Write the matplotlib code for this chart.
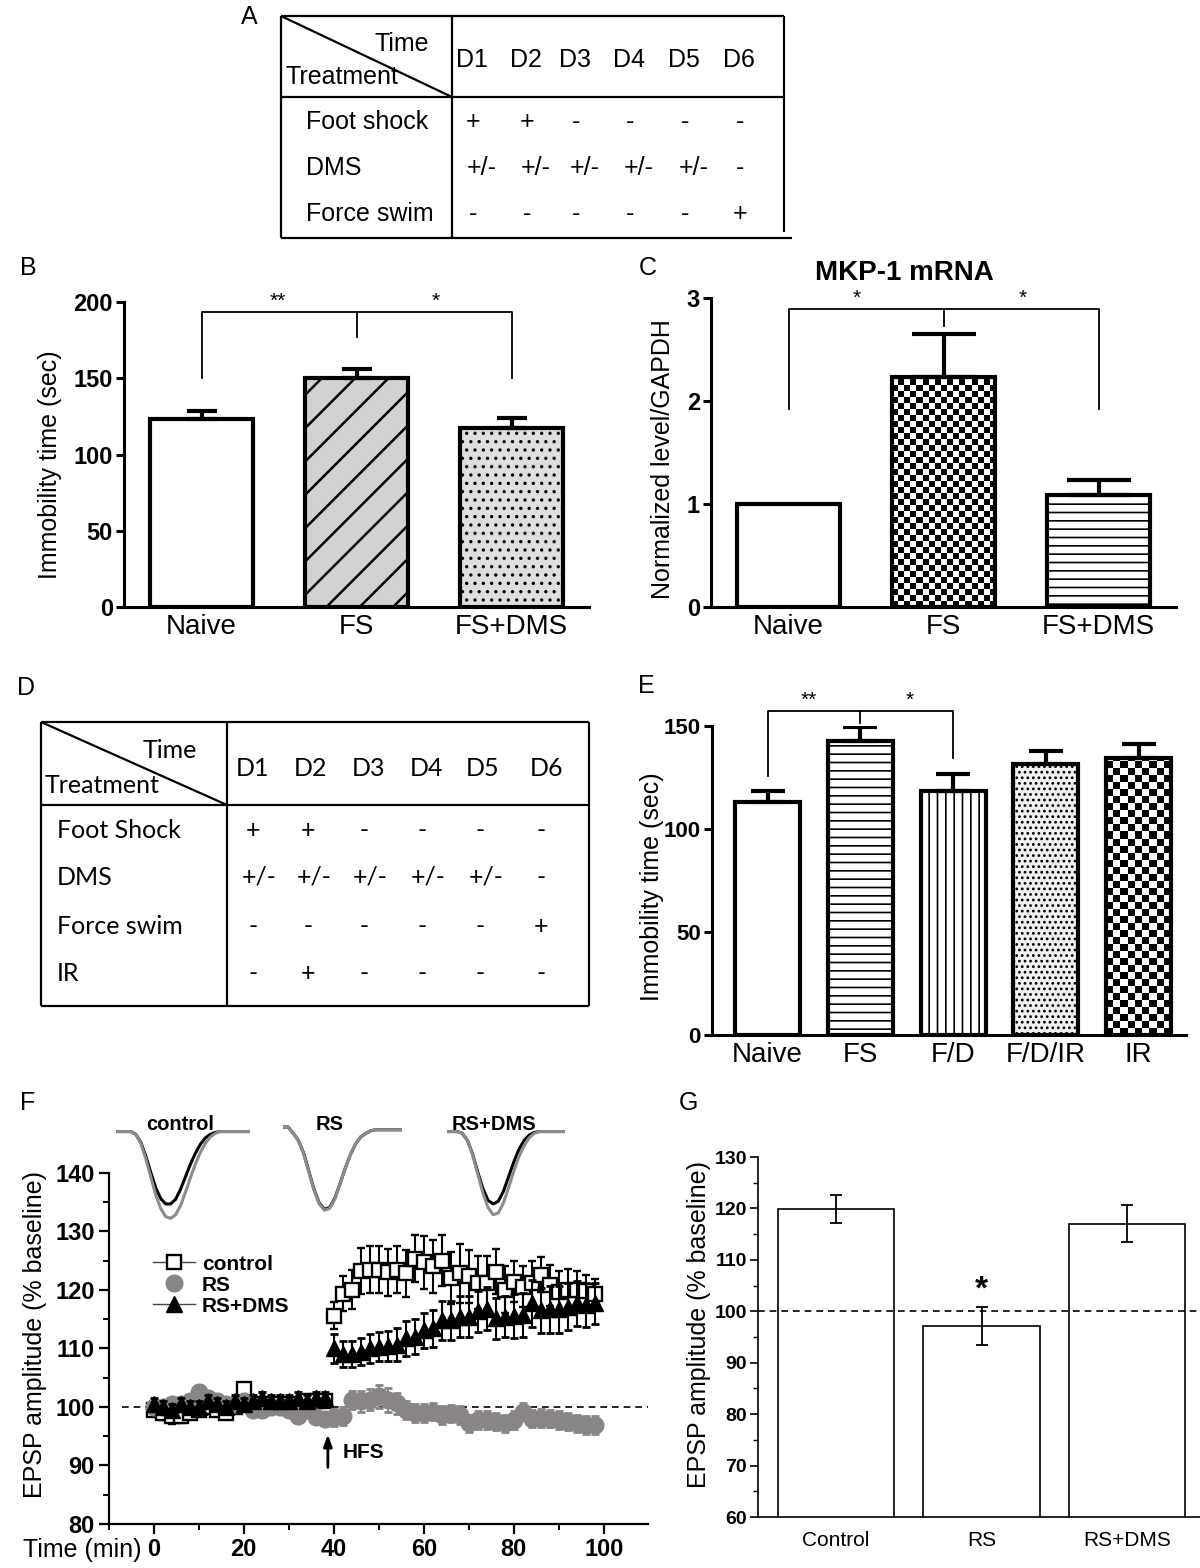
import numpy as np
import matplotlib
matplotlib.use('Agg')
import matplotlib.pyplot as plt
from matplotlib.lines import Line2D
from matplotlib.ticker import MultipleLocator

plt.rcParams['font.family'] = ['Liberation Sans', 'DejaVu Sans']
plt.rcParams['hatch.linewidth'] = 1.2

W, H = 1200, 1568

# ---- A / D : treatment schedules ----
days = ['D1', 'D2', 'D3', 'D4', 'D5', 'D6']
rows_a = ['Foot shock', 'DMS', 'Force swim']
marks_a = [['+', '+', '-', '-', '-', '-'],
           ['+/-', '+/-', '+/-', '+/-', '+/-', '-'],
           ['-', '-', '-', '-', '-', '+']]
rows_d = ['Foot Shock', 'DMS', 'Force swim', 'IR']
marks_d = [['+', '+', '-', '-', '-', '-'],
           ['+/-', '+/-', '+/-', '+/-', '+/-', '-'],
           ['-', '-', '-', '-', '-', '+'],
           ['-', '+', '-', '-', '-', '-']]

# ---- B : immobility time ----
grp_b = ['Naive', 'FS', 'FS+DMS']
immob_b = [123.3, 150.2, 117.4]
immob_b_sem = [5.4, 6.0, 6.6]

# ---- C : MKP-1 mRNA ----
grp_c = ['Naive', 'FS', 'FS+DMS']
mkp1 = [1.0, 2.23, 1.09]
mkp1_sem = [0.0, 0.42, 0.14]

# ---- E : immobility time, IR ----
grp_e = ['Naive', 'FS', 'F/D', 'F/D/IR', 'IR']
immob_e = [113.0, 142.7, 118.6, 131.4, 134.6]
immob_e_sem = [5.4, 7.0, 8.0, 6.5, 6.7]

# ---- F : EPSP time course ----
t_min = list(range(0, 100, 2))
ctrl = [99.5, 99.0, 98.5, 98.5, 99.0, 99.5, 100.0, 99.5, 99.0, 100.0,
        103.0, 100.5, 100.0, 100.5, 100.5, 100.0, 100.5, 101.0, 101.0, 101.0,
        115.6, 119.3, 120.0, 123.2, 123.4, 123.4, 123.0, 123.4, 122.8, 125.3,
        124.7, 124.0, 125.0, 122.0, 122.8, 122.3, 121.2, 121.2, 123.1, 120.0,
        121.4, 120.5, 121.2, 122.6, 120.8, 119.7, 120.0, 120.0, 119.8, 119.3]
ctrl_sem = [1.0, 1.2, 1.5, 1.2, 1.0, 1.0, 1.2, 1.0, 1.0, 1.0,
            1.0, 1.0, 1.2, 1.0, 1.0, 1.0, 1.0, 1.0, 1.0, 1.0,
            2.3, 3.0, 3.3, 4.0, 4.0, 4.0, 4.0, 4.0, 4.0, 4.0,
            4.5, 4.5, 4.3, 4.5, 5.0, 4.5, 4.5, 4.5, 3.8, 4.0,
            3.5, 3.5, 3.8, 3.0, 3.5, 3.5, 3.5, 3.2, 2.8, 2.5]
rs = [100.0, 100.0, 100.5, 100.5, 101.0, 102.5, 101.5, 101.0, 100.5, 100.5,
      101.0, 99.5, 99.5, 100.0, 100.0, 99.5, 98.5, 99.5, 98.2, 98.0,
      98.2, 98.4, 101.2, 101.0, 101.2, 101.8, 101.2, 100.6, 99.5, 99.0,
      99.0, 99.2, 98.6, 98.9, 98.6, 97.2, 97.8, 97.8, 97.5, 97.2,
      97.8, 99.2, 98.0, 98.1, 98.0, 97.8, 97.5, 97.2, 96.9, 96.9]
rs_sem = [1.0, 1.0, 1.0, 1.0, 1.0, 1.2, 1.0, 1.0, 1.0, 1.0,
          1.0, 1.0, 1.0, 1.0, 1.0, 1.0, 1.0, 1.0, 1.0, 1.0,
          1.5, 1.5, 1.5, 1.8, 1.8, 2.0, 2.0, 1.8, 1.5, 1.5,
          1.5, 1.5, 1.5, 1.5, 1.5, 1.5, 1.5, 1.5, 1.5, 1.5,
          1.5, 1.5, 1.5, 1.5, 1.5, 1.5, 1.5, 1.5, 1.5, 1.5]
rsd = [100.5, 100.0, 99.5, 100.5, 100.0, 100.0, 101.0, 100.5, 100.0, 101.0,
       100.5, 101.0, 101.5, 101.0, 101.0, 101.0, 101.5, 101.0, 101.5, 101.5,
       110.0, 109.1, 109.1, 109.4, 110.0, 110.3, 110.4, 110.6, 111.7, 112.0,
       113.1, 113.4, 114.8, 114.8, 115.4, 115.4, 116.3, 116.8, 115.1, 115.4,
       115.5, 115.7, 117.7, 116.5, 116.7, 116.7, 117.1, 117.7, 117.4, 117.7]
rsd_sem = [1.0, 1.0, 1.0, 1.0, 1.0, 1.0, 1.0, 1.0, 1.0, 1.0,
           1.0, 1.0, 1.0, 1.0, 1.0, 1.0, 1.0, 1.0, 1.0, 1.0,
           2.5, 2.2, 2.2, 2.3, 2.5, 2.5, 2.6, 2.8, 3.0, 3.0,
           3.0, 3.2, 3.3, 3.3, 3.5, 3.5, 3.5, 3.6, 3.5, 3.5,
           3.7, 3.8, 4.0, 3.8, 4.0, 4.0, 4.0, 3.8, 3.7, 3.5]

# example EPSP sweeps (baseline = grey, after HFS = black), normalised
sweep_ctrl_pre = [0, 0, 0, 0, -0.03, -0.13, -0.3, -0.5, -0.7, -0.85, -0.94, -0.96,
                  -0.92, -0.82, -0.67, -0.51, -0.36, -0.23, -0.13, -0.06, -0.02,
                  0, 0, 0, 0, 0, 0, 0]
sweep_ctrl_post = [0, 0, 0, 0, -0.03, -0.12, -0.27, -0.45, -0.62, -0.74, -0.8, -0.8,
                   -0.75, -0.64, -0.5, -0.36, -0.24, -0.14, -0.07, -0.03, -0.01,
                   0, 0, 0, 0, 0, 0, 0]
sweep_rs_pre = [0.05, 0.05, -0.02, -0.1, -0.25, -0.45, -0.65, -0.8, -0.87, -0.85,
                -0.75, -0.58, -0.41, -0.26, -0.14, -0.06, -0.02, 0.01, 0.02, 0.02,
                0.02, 0.02, 0.02, 0.02]
sweep_rs_post = [0.05, 0.05, -0.02, -0.1, -0.24, -0.44, -0.64, -0.79, -0.86, -0.84,
                 -0.74, -0.58, -0.41, -0.26, -0.14, -0.06, -0.02, 0.01, 0.02, 0.02,
                 0.02, 0.02, 0.02, 0.02]
sweep_rsd_pre = [0, 0, 0, -0.02, -0.1, -0.26, -0.47, -0.68, -0.84, -0.92, -0.9, -0.79,
                 -0.62, -0.44, -0.28, -0.16, -0.07, -0.02, 0, 0, 0, 0, 0, 0]
sweep_rsd_post = [0, 0, 0, -0.02, -0.1, -0.25, -0.45, -0.63, -0.76, -0.8, -0.77, -0.66,
                  -0.5, -0.34, -0.2, -0.1, -0.04, -0.01, 0, 0, 0, 0, 0, 0]

# ---- G : EPSP summary ----
grp_g = ['Control', 'RS', 'RS+DMS']
epsp = [119.9, 97.1, 117.0]
epsp_sem = [2.8, 3.7, 3.6]


fig = plt.figure(figsize=(W / 100, H / 100), dpi=100)


def axes_px(l, t, r, b):
    return fig.add_axes([l / W, 1 - b / H, (r - l) / W, (b - t) / H])


# overlay in pixel coordinates for tables, panel letters and labels
ov = fig.add_axes([0, 0, 1, 1])
ov.set_xlim(0, W)
ov.set_ylim(H, 0)
ov.axis('off')


def line(xs, ys, lw=1.6):
    ov.plot(xs, ys, color='black', lw=lw, solid_capstyle='butt')


for letter, (x, y) in zip('ABCDEFG', [(249, 17), (28, 268), (648, 268), (26, 688),
                                      (646, 686), (28, 1103), (688, 1103)]):
    ov.text(x, y, letter, fontsize=18, ha='center', va='center')

# table A
tsize = 18
line([281, 784], [16, 16])
line([281, 792], [238, 238])
line([281, 281], [16, 238])
line([784, 784], [16, 232])
line([452, 452], [16, 238])
line([281, 784], [97, 97])
line([281, 452], [16, 97])
ov.text(429, 44, 'Time', fontsize=tsize, ha='right', va='center')
ov.text(285, 77, 'Treatment', fontsize=tsize, ha='left', va='center')
col_a = [472, 526, 575, 629, 684, 739]
for x, d in zip(col_a, days):
    ov.text(x, 60, d, fontsize=tsize, ha='center', va='center')
for y, name, marks in zip([122, 168, 214], rows_a, marks_a):
    ov.text(306, y, name, fontsize=tsize, ha='left', va='center')
    for x, m in zip(col_a, marks):
        ov.text(x + (10 if m == '+/-' else 1), y, m, fontsize=tsize, ha='center', va='center')

# table D
tfont = ['Lato', 'DejaVu Sans']
line([41, 589], [722, 722])
line([41, 589], [1006, 1006])
line([41, 41], [722, 1006])
line([589, 589], [722, 1006])
line([227, 227], [722, 1006])
line([41, 589], [805, 805])
line([41, 227], [722, 805])
ov.text(197, 750, 'Time', fontsize=tsize, ha='right', va='center', family=tfont)
ov.text(45, 785, 'Treatment', fontsize=tsize, ha='left', va='center', family=tfont)
col_d = [253, 311, 368, 426, 483, 547]
for x, d in zip(col_d, days):
    ov.text(x, 768, d, fontsize=tsize, ha='center', va='center', family=tfont)
mark_d = [253, 308, 364, 422, 480, 541]
for y, name, marks in zip([830, 877, 926, 973], rows_d, marks_d):
    ov.text(57, y, name, fontsize=tsize, ha='left', va='center', family=tfont)
    for x, m in zip(mark_d, marks):
        ov.text(x + (6 if m == '+/-' else 0), y, m, fontsize=tsize, ha='center', va='center',
                family=tfont)

# y labels and other free text
ov.text(50, 465, 'Immobility time (sec)', fontsize=18, rotation=90, ha='center', va='center')
ov.text(663, 459, 'Normalized level/GAPDH', fontsize=18, rotation=90, ha='center', va='center')
ov.text(652, 887, 'Immobility time (sec)', fontsize=18, rotation=90, ha='center', va='center')
ov.text(35, 1335, 'EPSP amplitude (% baseline)', fontsize=18, rotation=90, ha='center',
        va='center')
ov.text(699, 1324, 'EPSP amplitude (% baseline)', fontsize=18, rotation=90, ha='center',
        va='center')
ov.text(904, 273, 'MKP-1 mRNA', fontsize=20, fontweight='bold', ha='center', va='center')
ov.text(82, 1550, 'Time (min)', fontsize=18, ha='center', va='center')
ov.text(180, 1125, 'control', fontsize=14.5, fontweight='bold', ha='center', va='center')
ov.text(330, 1125, 'RS', fontsize=14.5, fontweight='bold', ha='center', va='center')
ov.text(494, 1125, 'RS+DMS', fontsize=14.5, fontweight='bold', ha='center', va='center')


def style_bar_axes(ax, spine_lw=2.2, ticksize=16, catsize=20):
    for s in ['top', 'right']:
        ax.spines[s].set_visible(False)
    for s in ['left', 'bottom']:
        ax.spines[s].set_linewidth(spine_lw)
    ax.tick_params(axis='y', direction='out', length=6, width=spine_lw, pad=2)
    ax.tick_params(axis='x', length=0, pad=5, labelsize=catsize)
    ax.patch.set_alpha(0)


def bold_yticks(ax, ticks, size):
    ax.set_yticks(ticks)
    ax.set_yticklabels([str(t) for t in ticks], fontweight='bold', fontsize=size)


def hatch_lw(bars, lw):
    for p in bars:
        if hasattr(p, 'set_hatch_linewidth'):
            p.set_hatch_linewidth(lw)


def checker(ax, bar, px, box_w, box_h):
    x0, y0 = bar.get_x(), bar.get_y()
    w, h = bar.get_width(), bar.get_height()
    xl, yl = ax.get_xlim(), ax.get_ylim()
    sx = px * (xl[1] - xl[0]) / box_w
    sy = px * (yl[1] - yl[0]) / box_h
    nx = max(1, int(round(w / sx)))
    ny = int(np.ceil(h / sy)) + 1
    ii, jj = np.indices((ny, nx))
    img = (ii + jj) % 2
    im = ax.imshow(img, cmap='gray', extent=(x0, x0 + w, y0, y0 + ny * sy), origin='lower',
                   aspect='auto', interpolation='nearest', zorder=1)
    im.set_clip_path(bar)


# ---- panel B ----
axB = axes_px(124, 302, 589, 607)
xb = np.arange(len(grp_b))
axB.set_xlim(-0.5, 2.5)
axB.set_ylim(0, 200)
bars = axB.bar(xb, immob_b, width=0.67, color=['white', '#d2d2d2', '#dedede'],
               edgecolor='black', linewidth=3, zorder=2)
bars[1].set_hatch('/')
bars[2].set_hatch('..')
hatch_lw([bars[1]], 1.8)
axB.errorbar(xb, immob_b, yerr=[[0] * 3, immob_b_sem], fmt='none', ecolor='black',
             elinewidth=3, capsize=11, capthick=3, zorder=3)
axB.plot([0, 0, 2, 2], [150, 193.4, 193.4, 150], color='black', lw=1.3)
axB.plot([1, 1], [193.4, 177], color='black', lw=1.3)
axB.text(0.49, 194, '**', ha='center', va='bottom', fontsize=15)
axB.text(1.51, 194, '*', ha='center', va='bottom', fontsize=15)
axB.set_xticks(xb)
axB.set_xticklabels(grp_b)
bold_yticks(axB, [0, 50, 100, 150, 200], 17)
style_bar_axes(axB)

# ---- panel C ----
axC = axes_px(711, 298, 1176, 607)
xc = np.arange(len(grp_c))
axC.set_xlim(-0.5, 2.5)
axC.set_ylim(0, 3)
bars = axC.bar(xc, mkp1, width=0.67, color=['white', 'none', 'white'],
               edgecolor='black', linewidth=3, zorder=2)
bars[2].set_hatch('--')
checker(axC, bars[1], 6, 465, 309)
axC.errorbar(xc[1:], mkp1[1:], yerr=[[0, 0], mkp1_sem[1:]], fmt='none', ecolor='black',
             elinewidth=3, capsize=23, capthick=3, zorder=3)
axC.plot([0, 0, 2, 2], [1.92, 2.89, 2.89, 1.92], color='black', lw=1.3)
axC.plot([1, 1], [2.89, 2.73], color='black', lw=1.3)
axC.text(0.44, 2.9, '*', ha='center', va='bottom', fontsize=15)
axC.text(1.51, 2.9, '*', ha='center', va='bottom', fontsize=15)
axC.set_xticks(xc)
axC.set_xticklabels(grp_c)
bold_yticks(axC, [0, 1, 2, 3], 17)
style_bar_axes(axC)

# ---- panel E ----
axE = axes_px(712, 726, 1186, 1035)
xe = np.arange(len(grp_e))
axE.set_xlim(-0.6, 4.51)
axE.set_ylim(0, 150)
bars = axE.bar(xe, immob_e, width=0.7, color=['white', 'white', 'white', '#f0f0f0', 'none'],
               edgecolor='black', linewidth=3, zorder=2)
bars[1].set_hatch('--')
bars[2].set_hatch('||')
bars[3].set_hatch('...')
checker(axE, bars[4], 7, 474, 309)
axE.errorbar(xe, immob_e, yerr=[[0] * 5, immob_e_sem], fmt='none', ecolor='black',
             elinewidth=3, capsize=12, capthick=3, zorder=3)
axE.plot([0, 0, 2, 2], [125.7, 157.5, 157.5, 134.5], color='black', lw=1.3, clip_on=False)
axE.plot([1, 1], [157.5, 151.3], color='black', lw=1.3, clip_on=False)
axE.text(0.44, 158, '**', ha='center', va='bottom', fontsize=15)
axE.text(1.53, 158, '*', ha='center', va='bottom', fontsize=15)
axE.set_xticks(xe)
axE.set_xticklabels(grp_e)
bold_yticks(axE, [0, 50, 100, 150], 16)
style_bar_axes(axE)

# ---- panel F ----
axF = axes_px(108.6, 1172.7, 648, 1524)
axF.set_xlim(-10, 109.8)
axF.set_ylim(80, 140)
axF.hlines(100, -7, 109.8, colors='black', linestyles=(0, (4, 3)), lw=1.2, zorder=1)
axF.errorbar(t_min, ctrl, yerr=ctrl_sem, fmt='s', ms=10, mfc='white', mec='black', mew=1.7,
             ecolor='black', elinewidth=1.5, capsize=3, capthick=2, zorder=3)
axF.errorbar(t_min, rs, yerr=rs_sem, fmt='o', ms=12, mfc='#8a8585', mec='#8a8585',
             ecolor='#8a8585', elinewidth=1.5, capsize=3, capthick=2, zorder=4)
axF.errorbar(t_min, rsd, yerr=rsd_sem, fmt='^', ms=12, mfc='black', mec='black',
             ecolor='black', elinewidth=1.5, capsize=3, capthick=2, zorder=5)
axF.annotate('', xy=(38.7, 95.8), xytext=(38.7, 89.2),
             arrowprops=dict(arrowstyle='-|>,head_width=0.25,head_length=0.7',
                             lw=2, color='black'))
axF.text(42, 92.2, 'HFS', fontsize=15, fontweight='bold', va='center', ha='left')
handles = [Line2D([], [], color='#444444', lw=1, marker='s', ms=10, mfc='white',
                  mec='black', mew=1.7),
           Line2D([], [], ls='none', marker='o', ms=12, mfc='#8a8585', mec='#8a8585'),
           Line2D([], [], color='#444444', lw=1, marker='^', ms=12, mfc='black', mec='black')]
axF.legend(handles, ['control', 'RS', 'RS+DMS'], loc='center left',
           bbox_to_anchor=(0.063, 0.68), frameon=False, handlelength=2.0,
           handletextpad=0.35, labelspacing=0.1, borderpad=0,
           prop={'weight': 'bold', 'size': 15})
for s in ['top', 'right']:
    axF.spines[s].set_visible(False)
for s in ['left', 'bottom']:
    axF.spines[s].set_linewidth(1.6)
axF.set_xticks([0, 20, 40, 60, 80, 100])
axF.set_xticklabels(['0', '20', '40', '60', '80', '100'], fontweight='bold', fontsize=17)
axF.xaxis.set_minor_locator(MultipleLocator(10))
bold_yticks(axF, [80, 90, 100, 110, 120, 130, 140], 17)
axF.yaxis.set_minor_locator(MultipleLocator(5))
axF.tick_params(which='major', direction='out', length=7, width=1.6, pad=3)
axF.tick_params(which='minor', direction='out', length=4, width=1.4)
axF.patch.set_alpha(0)

# example sweeps above panel F
for box, pre, post in [((116, 1118, 250, 1222), sweep_ctrl_pre, sweep_ctrl_post),
                       ((283, 1118, 402, 1222), sweep_rs_pre, sweep_rs_post),
                       ((447, 1118, 565, 1222), sweep_rsd_pre, sweep_rsd_post)]:
    axs = axes_px(*box)
    axs.plot(range(len(post)), post, color='black', lw=2.2)
    axs.plot(range(len(pre)), pre, color='#8c8c8c', lw=2.2)
    axs.set_xlim(0, len(pre) - 1)
    axs.set_ylim(-1.0, 0.15)
    axs.axis('off')

# ---- panel G ----
axG = axes_px(758, 1157, 1200, 1517)
xg = np.arange(len(grp_g))
axG.set_xlim(-0.536, 2.5)
axG.set_ylim(60, 130)
axG.bar(xg, epsp, width=0.8, color='white', edgecolor='black', linewidth=1.2, zorder=2)
axG.errorbar(xg, epsp, yerr=epsp_sem, fmt='none', ecolor='black', elinewidth=1.3,
             capsize=4, capthick=1.3, zorder=3)
axG.axhline(100, color='black', ls=(0, (4, 3)), lw=1.2, zorder=4)
axG.text(1, 104.2, '*', fontsize=24, fontweight='bold', ha='center', va='center')
axG.set_xticks(xg)
axG.set_xticklabels(grp_g, fontsize=15)
bold_yticks(axG, [60, 70, 80, 90, 100, 110, 120, 130], 14)
axG.yaxis.set_minor_locator(MultipleLocator(5))
for s in ['top', 'right']:
    axG.spines[s].set_visible(False)
for s in ['left', 'bottom']:
    axG.spines[s].set_linewidth(1.2)
axG.tick_params(axis='y', which='major', direction='out', length=6, width=1.2, pad=2)
axG.tick_params(axis='y', which='minor', direction='out', length=3.5, width=1.0)
axG.tick_params(axis='x', length=0, pad=10)
axG.patch.set_alpha(0)

fig.savefig('out.png', dpi=100)
